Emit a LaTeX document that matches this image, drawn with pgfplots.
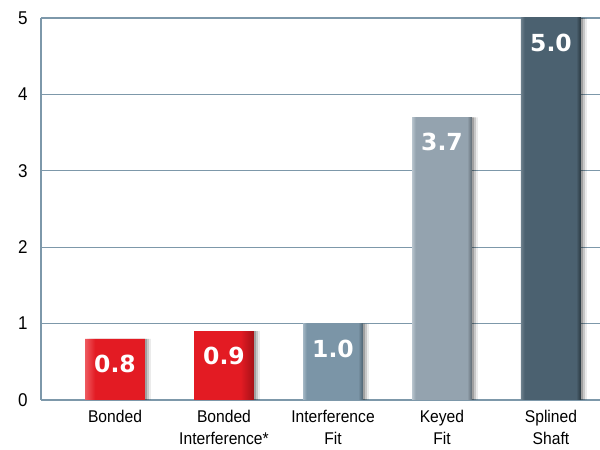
\documentclass[border=0pt]{standalone}
\usepackage{fontspec}
\setmainfont{Liberation Sans}[FakeStretch=0.92]
\newfontfamily\valfont{DejaVu Sans}
\usepackage{pgfplots}
\pgfplotsset{compat=1.18}
\definecolor{gridc}{RGB}{125,152,170}
\definecolor{redL}{RGB}{238,90,96}
\definecolor{redM}{RGB}{227,27,35}
\definecolor{redD}{RGB}{165,16,22}
\definecolor{ifL}{RGB}{165,184,197}
\definecolor{ifM}{RGB}{123,149,167}
\definecolor{ifD}{RGB}{78,98,112}
\definecolor{kyL}{RGB}{185,197,206}
\definecolor{kyM}{RGB}{148,163,175}
\definecolor{kyD}{RGB}{95,107,115}
\definecolor{spL}{RGB}{108,127,140}
\definecolor{spM}{RGB}{75,97,112}
\definecolor{spD}{RGB}{40,53,61}
\pgfdeclarehorizontalshading{redsh}{100bp}{color(0bp)=(redL); color(25bp)=(redL); color(28bp)=(redM); color(71bp)=(redM); color(75bp)=(redD); color(100bp)=(redD)}
\pgfdeclarehorizontalshading{ifsh}{100bp}{color(0bp)=(ifL); color(25bp)=(ifL); color(28bp)=(ifM); color(71bp)=(ifM); color(75bp)=(ifD); color(100bp)=(ifD)}
\pgfdeclarehorizontalshading{kysh}{100bp}{color(0bp)=(kyL); color(25bp)=(kyL); color(28bp)=(kyM); color(71bp)=(kyM); color(75bp)=(kyD); color(100bp)=(kyD)}
\pgfdeclarehorizontalshading{spsh}{100bp}{color(0bp)=(spL); color(25bp)=(spL); color(28bp)=(spM); color(71bp)=(spM); color(75bp)=(spD); color(100bp)=(spD)}
\begin{document}
\begin{tikzpicture}
\begin{axis}[
  name=ax,
  scale only axis,
  width=559pt, height=382pt,
  xmin=-0.679, xmax=4.45,
  ymin=0, ymax=5,
  ytick={0,1,2,3,4,5},
  xtick={0,1,2,3,4},
  xticklabels={Bonded,{Bonded\\Interference*},{Interference\\Fit},{Keyed\\Fit},{Splined\\Shaft}},
  axis lines=left,
  axis line style={-, draw=gridc, line width=1.2pt},
  ymajorgrids,
  grid style={draw=gridc, line width=1.2pt},
  major tick length=0pt,
  /pgf/number format/assume math mode=true,
  yticklabel style={font=\fontsize{18.5}{18.5}\selectfont, xshift=-10pt},
  xticklabel style={font=\fontsize{17}{22}\selectfont, align=center, yshift=-7pt},
  clip=false,
]
% shadows
\addplot[ybar, bar width=0.55, bar shift=6pt, fill=black, opacity=0.08, draw=none, forget plot] coordinates {(0,0.8) (1,0.9) (2,1.0) (3,3.7) (4,5.0)};
\addplot[ybar, bar width=0.55, bar shift=4pt, fill=black, opacity=0.15, draw=none, forget plot] coordinates {(0,0.8) (1,0.9) (2,1.0) (3,3.7) (4,5.0)};
\addplot[ybar, bar width=0.55, bar shift=2pt, fill=black, opacity=0.2, draw=none, forget plot] coordinates {(0,0.8) (1,0.9) (2,1.0) (3,3.7) (4,5.0)};
% bars
\addplot[ybar, bar width=0.55, bar shift=0pt, draw=none, shading=redsh,
  nodes near coords={\pgfmathprintnumber[fixed, fixed zerofill, precision=1, assume math mode=true]{\pgfplotspointmeta}},
  nodes near coords style={font=\valfont\bfseries\fontsize{23.5}{23.5}\selectfont, text=white, anchor=center, yshift=-25pt}]
  coordinates {(0,0.8) (1,0.9)};
\addplot[ybar, bar width=0.55, bar shift=0pt, draw=none, shading=ifsh,
  nodes near coords={\pgfmathprintnumber[fixed, fixed zerofill, precision=1, assume math mode=true]{\pgfplotspointmeta}},
  nodes near coords style={font=\valfont\bfseries\fontsize{23.5}{23.5}\selectfont, text=white, anchor=center, yshift=-25pt}]
  coordinates {(2,1.0)};
\addplot[ybar, bar width=0.55, bar shift=0pt, draw=none, shading=kysh,
  nodes near coords={\pgfmathprintnumber[fixed, fixed zerofill, precision=1, assume math mode=true]{\pgfplotspointmeta}},
  nodes near coords style={font=\valfont\bfseries\fontsize{23.5}{23.5}\selectfont, text=white, anchor=center, yshift=-25pt}]
  coordinates {(3,3.7)};
\addplot[ybar, bar width=0.55, bar shift=0pt, draw=none, shading=spsh,
  nodes near coords={\pgfmathprintnumber[fixed, fixed zerofill, precision=1, assume math mode=true]{\pgfplotspointmeta}},
  nodes near coords style={font=\valfont\bfseries\fontsize{23.5}{23.5}\selectfont, text=white, anchor=center, yshift=-25pt}]
  coordinates {(4,5.0)};
\end{axis}
\pgfresetboundingbox
\path (ax.south west) ++(-41pt,-50pt) rectangle ([yshift=18pt]ax.north east);
\end{tikzpicture}
\end{document}
